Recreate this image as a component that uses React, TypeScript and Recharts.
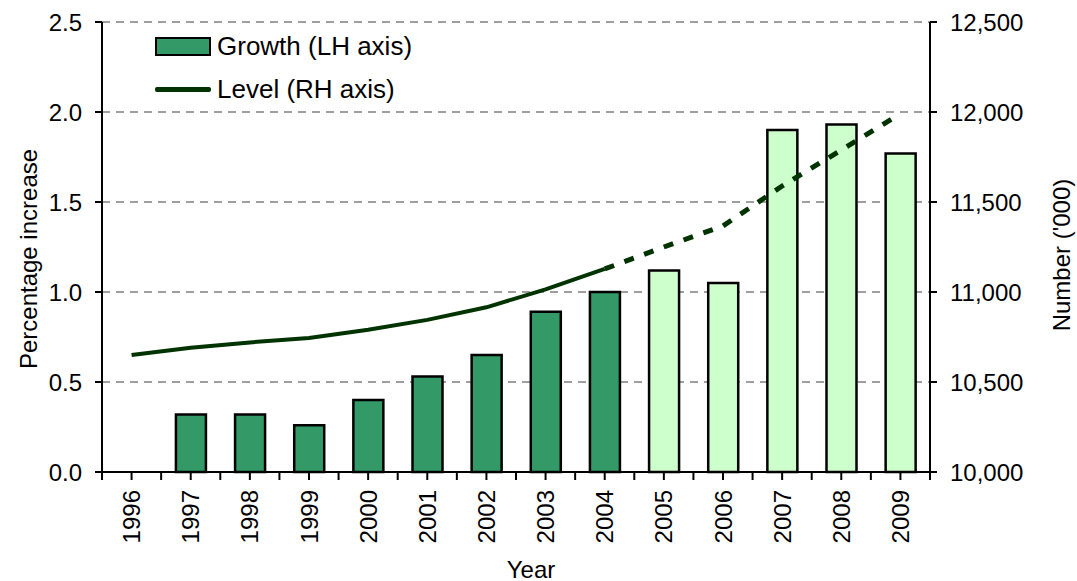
import { Bar, CartesianGrid, Cell, ComposedChart, Line, XAxis, YAxis } from "recharts";

const years = ["1996", "1997", "1998", "1999", "2000", "2001", "2002", "2003", "2004", "2005", "2006", "2007", "2008", "2009"];
const growth = [null, 0.32, 0.32, 0.26, 0.4, 0.53, 0.65, 0.89, 1.0, 1.12, 1.05, 1.9, 1.93, 1.77];
const levelActual = [10650, 10690, 10720, 10745, 10790, 10845, 10915, 11015, 11128, null, null, null, null, null];
const levelProjected = [null, null, null, null, null, null, null, null, 11128, 11250, 11367, 11589, 11789, 11990];
const firstProjectedYear = 2005;

const leftTicks = [0, 0.5, 1.0, 1.5, 2.0, 2.5];
const rightTicks = [10000, 10500, 11000, 11500, 12000, 12500];

const W = 1077;
const H = 581;
const LEFT_W = 102;
const RIGHT_W = 147;
const XAXIS_H = 109;
const TOP = 22;

const DARK = "#339966";
const LIGHT = "#CCFFCC";
const LINE = "#003300";
const FONT = "Liberation Sans, Arial, sans-serif";

const data = years.map((y, i) => ({
    year: y,
    growth: growth[i],
    levelActual: levelActual[i],
    levelProjected: levelProjected[i],
}));

const band = (W - LEFT_W - RIGHT_W) / years.length;

function YearTick(props: any) {
    const { x, y, payload, index } = props;
    return (
        <g>
            <line x1={x} x2={x} y1={y - 9} y2={y} stroke="#000" strokeWidth={2} />
            <line x1={x - band / 2} x2={x - band / 2} y1={y - 9} y2={y} stroke="#000" strokeWidth={2} />
            {index === years.length - 1 && (
                <line x1={x + band / 2} x2={x + band / 2} y1={y - 9} y2={y} stroke="#000" strokeWidth={2} />
            )}
            <text
                x={x}
                y={y + 10}
                transform={`rotate(-90, ${x}, ${y + 10})`}
                textAnchor="end"
                dominantBaseline="central"
                fontSize={24}
                fontFamily={FONT}
                fill="#000"
            >
                {payload.value}
            </text>
        </g>
    );
}

function LegendBox() {
    const row = { display: "flex", alignItems: "center", height: 43, fontSize: 26, fontFamily: FONT, color: "#000" };
    return (
        <div style={{ position: "absolute", left: 155, top: 25 }}>
            <div style={row}>
                <div style={{ width: 52, height: 15, background: DARK, border: "2px solid #000", marginRight: 6 }} />
                Growth (LH axis)
            </div>
            <div style={row}>
                <div style={{ width: 56, height: 5, background: LINE, borderRadius: 2, marginRight: 6 }} />
                Level (RH axis)
            </div>
        </div>
    );
}

function LeftTitle(props: any) {
    const vb = props.viewBox;
    const cy = vb.y + vb.height / 2 + 12;
    return (
        <text x={28} y={cy} transform={`rotate(-90, 28, ${cy})`} textAnchor="middle" dominantBaseline="central" fontSize={24} fontFamily={FONT} fill="#000">
            Percentage increase
        </text>
    );
}

function RightTitle(props: any) {
    const vb = props.viewBox;
    const cy = vb.y + vb.height / 2 + 8;
    const cx = W - 16;
    return (
        <text x={cx} y={cy} transform={`rotate(-90, ${cx}, ${cy})`} textAnchor="middle" dominantBaseline="central" fontSize={24} fontFamily={FONT} fill="#000">
            Number ('000)
        </text>
    );
}

function YearTitle(props: any) {
    const vb = props.viewBox;
    const cx = vb.x + vb.width / 2 + 15;
    return (
        <text x={cx} y={H - 12} textAnchor="middle" dominantBaseline="central" fontSize={24} fontFamily={FONT} fill="#000">
            Year
        </text>
    );
}

export default function App() {
    return (
        <div style={{ position: "absolute", left: 0, top: 0, width: W, height: H, background: "#fff" }}>
            <ComposedChart width={W} height={H} data={data} margin={{ top: TOP, right: 0, bottom: 0, left: 0 }} barCategoryGap="25%">
                <CartesianGrid yAxisId="left" vertical={false} stroke="#808080" strokeDasharray="8 6" strokeWidth={1.5} />
                <XAxis
                    dataKey="year"
                    height={XAXIS_H}
                    interval={0}
                    tickLine={false}
                    axisLine={{ stroke: "#000", strokeWidth: 2 }}
                    tick={<YearTick />}
                    label={<YearTitle />}
                />
                <YAxis
                    yAxisId="left"
                    width={LEFT_W}
                    domain={[0, 2.5]}
                    ticks={leftTicks}
                    tickFormatter={(v: number) => v.toFixed(1)}
                    tick={{ fontSize: 24, fontFamily: FONT, fill: "#000" }}
                    tickLine={{ stroke: "#000", strokeWidth: 2 }}
                    tickSize={7}
                    tickMargin={13}
                    axisLine={{ stroke: "#000", strokeWidth: 2 }}
                    label={<LeftTitle />}
                />
                <YAxis
                    yAxisId="right"
                    orientation="right"
                    width={RIGHT_W}
                    domain={[10000, 12500]}
                    ticks={rightTicks}
                    tickFormatter={(v: number) => v.toLocaleString("en-US")}
                    tick={{ fontSize: 24, fontFamily: FONT, fill: "#000" }}
                    tickLine={{ stroke: "#000", strokeWidth: 2 }}
                    tickSize={7}
                    tickMargin={13}
                    axisLine={{ stroke: "#000", strokeWidth: 2 }}
                    label={<RightTitle />}
                />
                <Bar yAxisId="left" dataKey="growth" name="Growth (LH axis)" stroke="#000" strokeWidth={2.5} isAnimationActive={false}>
                    {data.map((d) => (
                        <Cell key={d.year} fill={Number(d.year) >= firstProjectedYear ? LIGHT : DARK} />
                    ))}
                </Bar>
                <Line yAxisId="right" dataKey="levelActual" name="Level (RH axis)" stroke={LINE} strokeWidth={4} dot={false} connectNulls={false} isAnimationActive={false} />
                <Line yAxisId="right" dataKey="levelProjected" stroke={LINE} strokeWidth={5} strokeDasharray="10 11" dot={false} connectNulls={false} isAnimationActive={false} legendType="none" />
            </ComposedChart>
            <LegendBox />
        </div>
    );
}
